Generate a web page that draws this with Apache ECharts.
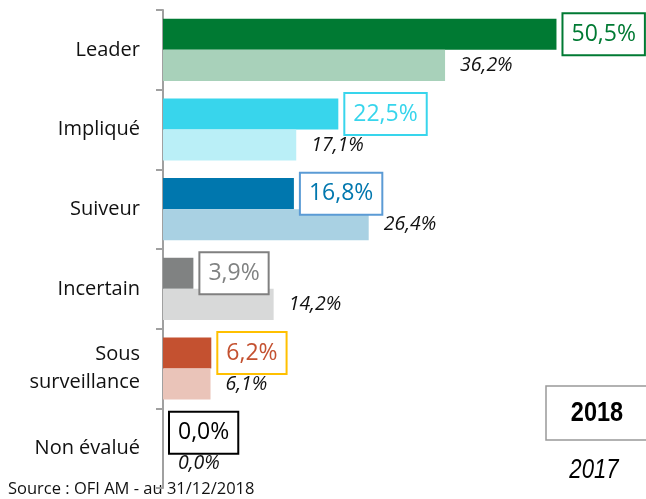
<!DOCTYPE html>
<html>
<head>
<meta charset="utf-8">
<script src="https://cdn.jsdelivr.net/npm/echarts@6/dist/echarts.min.js"></script>
<style>html,body{margin:0;padding:0;background:#fff}#c{width:646px;height:499px}</style>
</head>
<body>
<div id="c"></div>
<script>
const categories = ['Leader', 'Impliqué', 'Suiveur', 'Incertain', 'Sous\nsurveillance', 'Non évalué'];
const values2018 = [50.5, 22.5, 16.8, 3.9, 6.2, 0.0];
const values2017 = [36.2, 17.1, 26.4, 14.2, 6.1, 0.0];
const colors2018 = ['#007A33', '#38D5EC', '#0077AE', '#808282', '#C45130', '#000000'];
const colors2017 = ['#A8D1BA', '#BAEFF7', '#A9D1E3', '#D8D9D9', '#EAC4B9', '#FFFFFF'];
const labelText2018 = ['#007A33', '#38D5EC', '#0077AE', '#808282', '#C45130', '#000000'];
const labelBorder2018 = ['#007A33', '#38D5EC', '#5B9BD5', '#808080', '#FFC000', '#000000'];
const seriesNames = ['2018', '2017'];
const sourceText = 'Source : OFI AM - au 31/12/2018';

const fmt = v => v.toFixed(1).replace('.', ',') + '%';

const chart = echarts.init(document.getElementById('c'), null, {renderer: 'canvas'});
chart.setOption({
  animation: false,
  backgroundColor: '#fff',
  grid: {left: 163, top: 10, bottom: 11, right: 15.5, containLabel: false},
  xAxis: {type: 'value', min: 0, max: 60, show: false},
  yAxis: {
    type: 'category',
    data: categories,
    inverse: true,
    axisLine: {show: true, lineStyle: {color: '#A0A0A0', width: 2}},
    axisTick: {show: true, length: 7, lineStyle: {color: '#A0A0A0', width: 2}},
    axisLabel: {margin: 23, fontFamily: 'Open Sans', fontSize: 20, color: '#111', lineHeight: 28, align: 'right'}
  },
  series: [
    {
      name: seriesNames[0], type: 'bar', barGap: '0%', barCategoryGap: '22%',
      data: values2018.map((v, i) => ({
        value: v,
        itemStyle: {color: colors2018[i]},
        label: {color: labelText2018[i], borderColor: labelBorder2018[i]}
      })),
      label: {
        show: true, position: 'right', distance: 7,
        fontFamily: 'Open Sans', fontSize: 23, fontWeight: 500,
        borderWidth: 2, padding: [9, 8, 8, 8], backgroundColor: '#fff',
        formatter: p => fmt(p.value)
      }
    },
    {
      name: seriesNames[1], type: 'bar',
      data: values2017.map((v, i) => ({value: v, itemStyle: {color: colors2017[i]}})),
      label: {
        show: true, position: 'right', distance: 15,
        fontFamily: 'Open Sans', fontSize: 19.5, fontStyle: 'italic', color: '#111',
        formatter: p => fmt(p.value)
      }
    }
  ],
  graphic: [
    {type: 'rect', shape: {x: 546, y: 386, width: 110, height: 54}, style: {fill: '#fff', stroke: '#999', lineWidth: 1.5}},
    {type: 'text', x: 597, y: 413, scaleX: 0.84, style: {text: seriesNames[0], font: 'bold 28px "Liberation Sans", sans-serif', fill: '#000', textAlign: 'center', textVerticalAlign: 'middle'}},
    {type: 'text', x: 594, y: 470, scaleX: 0.82, style: {text: seriesNames[1], font: 'italic 27px "Liberation Sans", sans-serif', fill: '#000', textAlign: 'center', textVerticalAlign: 'middle'}},
    {type: 'text', x: 8, y: 489, style: {text: sourceText, font: '16.5px "Open Sans", sans-serif', fill: '#111', textVerticalAlign: 'middle'}}
  ]
});
</script>
</body>
</html>
